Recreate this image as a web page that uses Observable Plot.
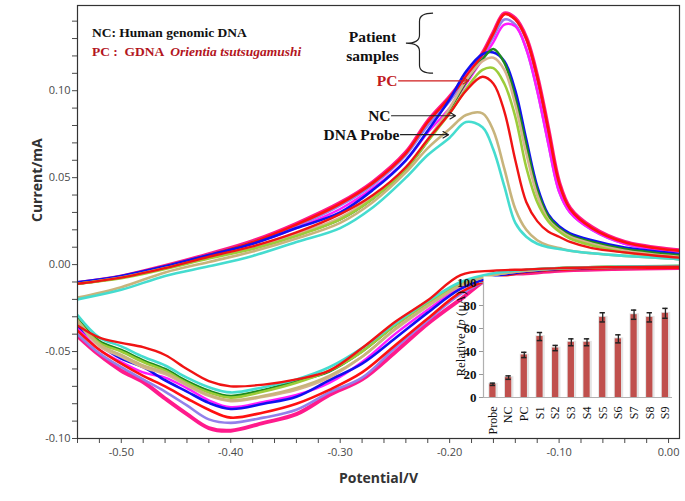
<!DOCTYPE html>
<html>
<head>
<meta charset="utf-8">
<script src="https://cdn.jsdelivr.net/npm/d3@7"></script>
<script src="https://cdn.jsdelivr.net/npm/@observablehq/plot@0.6"></script>
<style>
  html, body { margin: 0; padding: 0; background: white; }
  #wrap { position: relative; width: 685px; height: 501px; overflow: hidden; }
</style>
</head>
<body>
<div id="wrap"></div>
<script>
// ---------------- DATA ----------------
// Forward (anodic) scan potentials, V
const fwdV = [-0.54, -0.50, -0.46, -0.42, -0.38, -0.34, -0.30, -0.27, -0.24, -0.22, -0.20, -0.185, -0.17, -0.16, -0.15, -0.14, -0.13, -0.12, -0.11, -0.10, -0.09, -0.07, -0.04, 0.00, 0.01];
// Reverse (cathodic) scan potentials, V
const revV = [0.01, -0.05, -0.10, -0.13, -0.16, -0.19, -0.22, -0.25, -0.28, -0.31, -0.34, -0.37, -0.40, -0.42, -0.44, -0.46, -0.48, -0.50, -0.52, -0.54];

// Currents, mA
const probeFwd = [-0.020, -0.0145, -0.0065, -0.001, 0.005, 0.013, 0.021, 0.033, 0.050, 0.063, 0.073, 0.082, 0.079, 0.066, 0.045, 0.024, 0.016, 0.012, 0.010, 0.009, 0.008, 0.0065, 0.005, 0.0035, 0.003];
const probeRev = [-0.0008, -0.0012, -0.002, -0.003, -0.005, -0.010, -0.021, -0.034, -0.048, -0.059, -0.066, -0.0705, -0.0735, -0.0705, -0.065, -0.058, -0.053, -0.047, -0.042, -0.029];

const ncFwd = [-0.019, -0.013, -0.0045, 0.0015, 0.0075, 0.015, 0.024, 0.036, 0.053, 0.067, 0.078, 0.086, 0.087, 0.077, 0.055, 0.032, 0.020, 0.014, 0.011, 0.0095, 0.008, 0.0065, 0.005, 0.0035, 0.003];
const ncRev = [-0.001, -0.0013, -0.0022, -0.0035, -0.006, -0.012, -0.0236, -0.037, -0.053, -0.064, -0.071, -0.0755, -0.078, -0.075, -0.069, -0.062, -0.058, -0.052, -0.046, -0.032];

const pcFwd = [-0.011, -0.0075, -0.002, 0.0045, 0.0105, 0.0185, 0.029, 0.040, 0.056, 0.072, 0.087, 0.100, 0.108, 0.104, 0.088, 0.060, 0.036, 0.025, 0.019, 0.016, 0.013, 0.0095, 0.007, 0.0045, 0.004];
const pcRev = [-0.0012, -0.0015, -0.002, -0.0028, -0.0035, -0.006, -0.0205, -0.033, -0.048, -0.061, -0.066, -0.069, -0.070, -0.067, -0.060, -0.052, -0.0475, -0.045, -0.042, -0.035];

const s1Fwd = [-0.011, -0.0078, -0.0025, 0.0035, 0.009, 0.0165, 0.026, 0.038, 0.055, 0.071, 0.087, 0.101, 0.112, 0.113, 0.104, 0.085, 0.056, 0.036, 0.025, 0.019, 0.015, 0.011, 0.007, 0.0045, 0.004];
const s1Rev = [-0.0008, -0.0012, -0.002, -0.0032, -0.0055, -0.011, -0.022, -0.035, -0.050, -0.061, -0.068, -0.073, -0.0765, -0.0735, -0.068, -0.061, -0.056, -0.050, -0.045, -0.032];

const s2Fwd = [-0.011, -0.0075, -0.002, 0.004, 0.0095, 0.017, 0.026, 0.038, 0.055, 0.071, 0.089, 0.105, 0.118, 0.124, 0.116, 0.096, 0.069, 0.043, 0.028, 0.021, 0.017, 0.013, 0.009, 0.006, 0.0055];
const s2Rev = [-0.0008, -0.0012, -0.002, -0.0032, -0.0055, -0.011, -0.022, -0.035, -0.050, -0.0615, -0.067, -0.072, -0.0755, -0.0725, -0.067, -0.060, -0.055, -0.049, -0.044, -0.031];

const s3Fwd = [-0.011, -0.0075, -0.002, 0.004, 0.010, 0.0175, 0.027, 0.039, 0.056, 0.072, 0.090, 0.106, 0.117, 0.119, 0.112, 0.092, 0.064, 0.040, 0.026, 0.020, 0.016, 0.012, 0.008, 0.005, 0.0045];
const s3Rev = [-0.001, -0.0013, -0.0022, -0.0035, -0.006, -0.012, -0.024, -0.0375, -0.053, -0.065, -0.072, -0.076, -0.0785, -0.0755, -0.0695, -0.063, -0.059, -0.053, -0.047, -0.033];

const s4Fwd = [-0.0102, -0.0065, -0.001, 0.0055, 0.012, 0.021, 0.030, 0.043, 0.060, 0.077, 0.095, 0.111, 0.121, 0.122, 0.117, 0.100, 0.072, 0.045, 0.029, 0.022, 0.018, 0.014, 0.0098, 0.0068, 0.006];
const s4Rev = [-0.001, -0.0015, -0.0025, -0.004, -0.007, -0.014, -0.0276, -0.0425, -0.057, -0.0665, -0.076, -0.080, -0.083, -0.0795, -0.073, -0.0665, -0.059, -0.054, -0.046, -0.035];

const s5Fwd = [-0.011, -0.007, -0.0015, 0.005, 0.012, 0.021, 0.032, 0.044, 0.060, 0.076, 0.090, 0.104, 0.118, 0.128, 0.138, 0.137, 0.124, 0.100, 0.070, 0.042, 0.030, 0.020, 0.012, 0.008, 0.0075];
const s5Rev = [-0.001, -0.0015, -0.0025, -0.004, -0.007, -0.013, -0.026, -0.040, -0.056, -0.068, -0.075, -0.079, -0.082, -0.078, -0.071, -0.065, -0.062, -0.056, -0.049, -0.036];

const s6Fwd = [-0.0105, -0.007, -0.001, 0.0055, 0.013, 0.022, 0.034, 0.046, 0.063, 0.080, 0.094, 0.107, 0.120, 0.131, 0.141, 0.138, 0.124, 0.100, 0.070, 0.042, 0.030, 0.020, 0.012, 0.008, 0.0075];
const s6Rev = [-0.0015, -0.002, -0.003, -0.0045, -0.008, -0.017, -0.032, -0.048, -0.065, -0.0735, -0.0835, -0.088, -0.091, -0.089, -0.081, -0.073, -0.066, -0.059, -0.051, -0.040];

const s7Fwd = [-0.011, -0.007, -0.001, 0.0055, 0.013, 0.023, 0.035, 0.047, 0.064, 0.082, 0.096, 0.108, 0.121, 0.133, 0.144, 0.141, 0.130, 0.108, 0.078, 0.047, 0.032, 0.021, 0.0128, 0.0085, 0.008];
const s7Rev = [-0.0018, -0.002, -0.003, -0.0045, -0.008, -0.016, -0.031, -0.0465, -0.062, -0.072, -0.080, -0.085, -0.088, -0.0835, -0.077, -0.070, -0.064, -0.057, -0.049, -0.038];

const s8Fwd = [-0.0105, -0.0068, -0.0008, 0.006, 0.0135, 0.0235, 0.0355, 0.0475, 0.0645, 0.0825, 0.0965, 0.1085, 0.1215, 0.1335, 0.1445, 0.1415, 0.1305, 0.1085, 0.0785, 0.0475, 0.0325, 0.0215, 0.013, 0.0088, 0.0082];
const s8Rev = [-0.002, -0.0025, -0.0035, -0.005, -0.0065, -0.020, -0.034, -0.0505, -0.066, -0.075, -0.086, -0.091, -0.0955, -0.094, -0.086, -0.077, -0.0675, -0.061, -0.052, -0.041];

// Inset bar chart
const barCats = ["Probe", "NC", "PC", "S1", "S2", "S3", "S4", "S5", "S6", "S7", "S8", "S9"];
const barVals = [11.5, 17.3, 37, 53, 43, 48, 48, 69.7, 51, 72, 69.7, 73.2];
const barErr  = [1, 1.5, 2.3, 3.5, 2.3, 3, 3, 4, 3.5, 4, 4, 4.3];

// Annotations (data units)
const arrowLabels = ["PC", "NC", "DNA Probe"];
const arrowFromV = [-0.2467, -0.2531, -0.2449];
const arrowToV   = [-0.1827, -0.1946, -0.2010];
const arrowI     = [0.1057, 0.0856, 0.0747];

// ---------------- STYLES ----------------
const curves = [
  {key: "S8",    fwd: s8Fwd,    rev: s8Rev,    color: "#ff1a8c", w: 4},
  {key: "S6",    fwd: s6Fwd,    rev: s6Rev,    color: "#9380ea", w: 2.6},
  {key: "S5",    fwd: s5Fwd,    rev: s5Rev,    color: "#ff1aff", w: 2.4},
  {key: "S7",    fwd: s7Fwd,    rev: s7Rev,    color: "#ff1010", w: 2.6},
  {key: "S4",    fwd: s4Fwd,    rev: s4Rev,    color: "#1010f0", w: 2.6},
  {key: "S2",    fwd: s2Fwd,    rev: s2Rev,    color: "#1d8a1d", w: 2.4},
  {key: "S3",    fwd: s3Fwd,    rev: s3Rev,    color: "#d6b38f", w: 2.6},
  {key: "S1",    fwd: s1Fwd,    rev: s1Rev,    color: "#9ccc3a", w: 2.6},
  {key: "NC",    fwd: ncFwd,    rev: ncRev,    color: "#c8b47c", w: 2.6},
  {key: "Probe", fwd: probeFwd, rev: probeRev, color: "#45dccf", w: 2.6},
  {key: "PC",    fwd: pcFwd,    rev: pcRev,    color: "#f01414", w: 2.4}
];

const rows = [];
for (const c of curves) {
  fwdV.forEach((v, i) => rows.push({key: c.key, branch: "f", V: v, I: c.fwd[i]}));
  revV.forEach((v, i) => rows.push({key: c.key, branch: "r", V: v, I: c.rev[i]}));
}

const xMinor = d3.range(-54, 1, 2).map(d => d / 100);
const yMinor = d3.range(-10, 15, 1).map(d => d / 100);
const fmtX = d => { const r = Math.round(d * 100); return r % 10 === 0 ? (r / 100).toFixed(2) : ""; };
const fmtY = d => { const r = Math.round(d * 100); return r % 5 === 0 ? (r / 100).toFixed(2) : ""; };

const serif = "'Liberation Serif', 'Times New Roman', serif";

const lineMarks = curves.map(c => Plot.line(rows.filter(r => r.key === c.key), {
  x: "V", y: "I", z: "branch", stroke: c.color, strokeWidth: c.w,
  curve: "catmull-rom", clip: true, strokeLinejoin: "round"
}));

const arrows = arrowLabels.map((t, i) => ({t, x1: arrowFromV[i], x2: arrowToV[i], y: arrowI[i]}));
const arrowColor = t => t === "PC" ? "#d01c1c" : "#222";

const main = Plot.plot({
  width: 685, height: 501,
  marginLeft: 77, marginRight: 6, marginTop: 5, marginBottom: 63,
  style: {fontFamily: "'Open Sans', sans-serif", fontSize: "11px", color: "#4a4a4a", background: "white"},
  x: {domain: [-0.54, 0.01], label: null},
  y: {domain: [-0.10, 0.149], label: null},
  marks: [
    Plot.axisX({ticks: xMinor, tickSize: 5, tickPadding: 5, tickFormat: fmtX, label: null}),
    Plot.axisY({ticks: yMinor, tickSize: 5, tickPadding: 2, tickFormat: fmtY, label: null}),
    ...lineMarks,
    Plot.frame({stroke: "#333", strokeWidth: 1.2}),
    Plot.text(["Potential/V"], {text: d => d, frameAnchor: "bottom", dy: 44, fontWeight: "bold", fontSize: 14, fill: "#333"}),
    Plot.text(["Current/mA"], {text: d => d, frameAnchor: "left", dx: -40, rotate: -90, fontWeight: "bold", fontSize: 14, fill: "#333"}),
    Plot.arrow(arrows, {x1: "x1", x2: "x2", y1: "y", y2: "y", stroke: d => arrowColor(d.t), strokeWidth: 1.2, headLength: 8, bend: 0}),
    Plot.text(arrows, {x: "x1", y: "y", text: "t", textAnchor: "end", dx: -1, fontFamily: serif, fontWeight: "bold", fontSize: 15.5, fill: d => d.t === "PC" ? "#c01a22" : "#111"}),
    Plot.text(["Patient\nsamples"], {text: d => d, x: -0.2705, y: 0.1261, lineHeight: 1.22, fontFamily: serif, fontWeight: "bold", fontSize: 15.5, fill: "#111"})
  ]
});

const wrap = document.getElementById("wrap");
wrap.appendChild(main);

// Legend (mixed styles) and brace, positioned through the plot's scales
const sx = main.scale("x"), sy = main.scale("y");
const svg = d3.select(main);
const lg = svg.append("g").attr("font-family", serif).attr("font-weight", "bold").attr("font-size", 13.5)
  .attr("text-anchor", "start").style("white-space", "pre");
lg.append("text").attr("x", sx.apply(-0.5263)).attr("y", sy.apply(0.1333)).attr("dy", "0.35em").attr("fill", "#111").text("NC: Human genomic DNA");
const t2 = lg.append("text").attr("x", sx.apply(-0.5263)).attr("y", sy.apply(0.1224)).attr("dy", "0.35em").attr("fill", "#b3161e");
t2.append("tspan").text("PC :  GDNA  ");
t2.append("tspan").attr("font-style", "italic").text("Orientia tsutsugamushi");

// Brace "{"
{
  const x0 = sx.apply(-0.2395), x1 = sx.apply(-0.2147);
  const yt = sy.apply(0.1443), yb = sy.apply(0.1098);
  const ym = (yt + yb) / 2, xc = (x0 + x1) / 2, r = 8;
  const p = `M${x1},${yt} Q${xc},${yt} ${xc},${yt + r} L${xc},${ym - r} Q${xc},${ym} ${x0},${ym} Q${xc},${ym} ${xc},${ym + r} L${xc},${yb - r} Q${xc},${yb} ${x1},${yb}`;
  svg.append("path").attr("d", p).attr("fill", "none").attr("stroke", "#222").attr("stroke-width", 1.2);
}

// ---------------- INSET ----------------
const bars = barCats.map((c, i) => ({c, i, v: barVals[i], e: barErr[i]}));
const inset = Plot.plot({
  width: 240, height: 168,
  marginLeft: 43, marginRight: 8, marginTop: 12, marginBottom: 41,
  style: {fontFamily: serif, fontSize: "12px", color: "#111", background: "transparent", overflow: "visible"},
  x: {domain: [-0.6, 11.45], label: null},
  y: {domain: [0, 100], label: null},
  marks: [
    Plot.frame({fill: "white", stroke: null, insetTop: -6, insetRight: -3}),
    Plot.rectY(bars, {x1: d => d.i - 0.26, x2: d => d.i + 0.34, y1: 0, y2: d => d.v + 0.8, fill: "#e4e4e4"}),
    Plot.rectY(bars, {x1: d => d.i - 0.2, x2: d => d.i + 0.2, y1: 0, y2: "v", fill: "#c0504d"}),
    Plot.ruleX(bars, {x: "i", y1: d => d.v - d.e, y2: d => d.v + d.e, stroke: "#222", strokeWidth: 1.3}),
    Plot.ruleY(bars, {x1: d => d.i - 0.17, x2: d => d.i + 0.17, y: d => d.v + d.e, stroke: "#222", strokeWidth: 1.5}),
    Plot.ruleY(bars, {x1: d => d.i - 0.17, x2: d => d.i + 0.17, y: d => d.v - d.e, stroke: "#222", strokeWidth: 1.5}),
    Plot.ruleY([0], {stroke: "#b0b0b0", strokeWidth: 1.2}),
    Plot.ruleX([-0.6], {stroke: "#b0b0b0", strokeWidth: 1.2}),
    Plot.axisY({ticks: [0, 20, 40, 60, 80, 100], tickSize: 4, tickPadding: 3, fontWeight: "bold", fontSize: 13, stroke: "#999", label: null}),
    Plot.axisX({ticks: d3.range(barCats.length), tickFormat: i => barCats[i], tickRotate: -90, tickSize: 0, tickPadding: 9, fontSize: 12, label: null})
  ]
});
inset.style.position = "absolute";
inset.style.left = "440px";
inset.style.top = "270px";
wrap.appendChild(inset);

const isy = inset.scale("y");
const yl = d3.select(inset).append("text")
  .attr("transform", `translate(20,${isy.apply(55)}) rotate(-90)`)
  .attr("text-anchor", "middle").attr("dy", "0.35em")
  .attr("font-family", serif).attr("font-size", 13).attr("fill", "#111");
yl.append("tspan").text("Relative ");
yl.append("tspan").attr("font-style", "italic").text("Ip");
yl.append("tspan").text(" (\u03bcA)");
</script>
</body>
</html>
